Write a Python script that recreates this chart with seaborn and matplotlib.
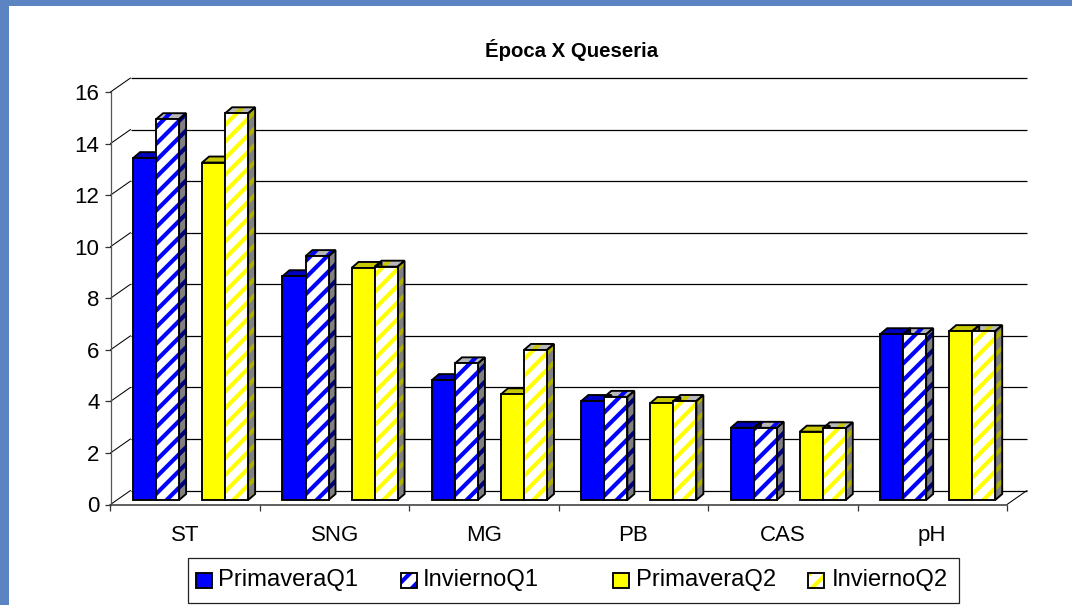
import numpy as np
import pandas as pd
import matplotlib
matplotlib.use("Agg")
import matplotlib.pyplot as plt
import seaborn as sns
from matplotlib.lines import Line2D
from matplotlib.patches import Polygon, Rectangle
from matplotlib.transforms import Affine2D, IdentityTransform

categories = ["ST", "SNG", "MG", "PB", "CAS", "pH"]
primavera_q1 = [13.26, 8.68, 4.65, 3.84, 2.80, 6.43]
invierno_q1 = [14.77, 9.46, 5.30, 4.00, 2.80, 6.43]
primavera_q2 = [13.09, 9.00, 4.10, 3.76, 2.65, 6.55]
invierno_q2 = [15.00, 9.05, 5.82, 3.84, 2.78, 6.55]
series_names = ["PrimaveraQ1", "InviernoQ1", "PrimaveraQ2", "InviernoQ2"]
y_ticks = [0, 2, 4, 6, 8, 10, 12, 14, 16]
title = "Época X Queseria"

BLUE, YELLOW = "#0000ff", "#ffff00"
W, H = 1072, 605
DX, DY = 20, 14          # wall depth in px
BX, BY = 5.4, 4.5        # bar plane shift in px
SX, SY = 7, 6            # bar depth in px
LW = 1.35
TEXTURE = "#5c83c2"

sns.set_theme(style="white")
plt.rcParams["font.family"] = ["Liberation Sans", "DejaVu Sans"]
plt.rcParams["hatch.linewidth"] = 3.0
plt.rcParams["text.color"] = "black"

df = pd.DataFrame({"categoria": categories, series_names[0]: primavera_q1, series_names[1]: invierno_q1,
                   " ": [np.nan] * len(categories), series_names[2]: primavera_q2, series_names[3]: invierno_q2})
long_df = df.melt(id_vars="categoria", var_name="serie", value_name="valor")
hue_order = [series_names[0], series_names[1], " ", series_names[2], series_names[3]]
palette = {series_names[0]: BLUE, series_names[1]: "white", " ": "white", series_names[2]: YELLOW, series_names[3]: "white"}

fig = plt.figure(figsize=(W / 100, H / 100), dpi=100, facecolor="white")

def rect(x0, top, x1, bottom):
    return [x0 / W, 1 - bottom / H, (x1 - x0) / W, (bottom - top) / H]

# textured slide edge
fig.add_artist(Rectangle((0, 0), 9 / W, 1, transform=fig.transFigure, fc=TEXTURE, ec="none"))
fig.add_artist(Rectangle((0, 1 - 6 / H), 1, 6 / H, transform=fig.transFigure, fc=TEXTURE, ec="none"))

ax = fig.add_axes(rect(110.5, 92, 1007, 504.5), facecolor="none")
ax.set_xlim(-0.5, 5.5)
ax.set_ylim(0, 16)
for s in ["top", "right"]:
    ax.spines[s].set_visible(False)
ax.spines["left"].set_color("#555555")
ax.spines["left"].set_linewidth(0.9)
ax.spines["bottom"].set_color("#444444")
ax.spines["bottom"].set_linewidth(1.2)
ax.set_yticks(y_ticks)
ax.set_xticks(np.arange(len(categories)))
ax.set_xticklabels(categories)
ax.set_xticks(np.arange(len(categories) + 1) - 0.5, minor=True)
ax.tick_params(axis="y", left=True, length=4.5, width=0.9, color="#333333", labelsize=16, pad=3.5, labelcolor="black")
ax.tick_params(axis="x", which="major", bottom=False, labelsize=16, pad=9, labelcolor="black")
ax.tick_params(axis="x", which="minor", bottom=True, length=4.5, width=0.9, color="#333333")
ax.set_xlabel("")
ax.set_ylabel("")

# back wall grid and depth lines
wall = ax.transData + Affine2D().translate(DX, DY)
ax.hlines(y_ticks, -0.5, 5.5, colors="black", linewidth=0.9, transform=wall, clip_on=False, zorder=1)
for v in y_ticks:
    p = ax.transData.transform((-0.5, v))
    ax.add_line(Line2D([p[0], p[0] + DX], [p[1], p[1] + DY], color="black", lw=0.75,
                       transform=IdentityTransform(), clip_on=False, zorder=1))
p = ax.transData.transform((5.5, 0))
ax.add_line(Line2D([p[0], p[0] + DX], [p[1], p[1] + DY], color="black", lw=0.75,
                   transform=IdentityTransform(), clip_on=False, zorder=1))

# bars, on a transparent axes shifted into the middle of the depth
bx = fig.add_axes(rect(110.5 + BX, 92 - BY, 1007 + BX, 504.5 - BY), facecolor="none")
sns.barplot(data=long_df, x="categoria", y="valor", hue="serie", hue_order=hue_order, palette=palette,
            order=categories, width=0.77, gap=0, dodge=True, errorbar=None, legend=False, saturation=1, ax=bx)
bx.set_xlim(-0.5, 5.5)
bx.set_ylim(0, 16)
bx.axis("off")

styles = [
    dict(main=BLUE, side="#00007f", top="#0000c0", hatched=False),
    dict(main=BLUE, side="#00007f", top=BLUE, hatched=True),
    dict(main=YELLOW, side="#808000", top="#c8c800", hatched=False),
    dict(main=YELLOW, side="#b0b000", top="#c8c800", hatched=True),
]
to_px = bx.transData
real_containers = [c for c in bx.containers if len(c.patches) and np.nansum([p.get_height() for p in c.patches]) > 0]
for st, container in zip(styles, real_containers):
    for patch in container.patches:
        x0, y0 = to_px.transform((patch.get_x(), 0))
        x1, y1 = to_px.transform((patch.get_x() + patch.get_width(), patch.get_height()))
        side = [(x1, y0), (x1 + SX, y0 + SY), (x1 + SX, y1 + SY), (x1, y1)]
        top = [(x0, y1), (x0 + SX, y1 + SY), (x1 + SX, y1 + SY), (x1, y1)]
        for pts, col in ((side, st["side"]), (top, st["top"])):
            if st["hatched"]:
                bx.add_patch(Polygon(pts, closed=True, fc="#808080" if pts is side else "#b8b8b8", ec=col, hatch="//", lw=0,
                                     transform=IdentityTransform(), clip_on=False, zorder=2))
                bx.add_patch(Polygon(pts, closed=True, fc="none", ec="black", lw=LW,
                                     transform=IdentityTransform(), clip_on=False, zorder=2.1))
            else:
                bx.add_patch(Polygon(pts, closed=True, fc=col, ec="black", lw=LW,
                                     transform=IdentityTransform(), clip_on=False, zorder=2.1))
        patch.set_zorder(3)
        patch.set_clip_on(False)
        if st["hatched"]:
            patch.set_facecolor("white")
            patch.set_edgecolor(st["main"])
            patch.set_hatch("//")
            patch.set_linewidth(0)
            bx.add_patch(Rectangle((patch.get_x(), 0), patch.get_width(), patch.get_height(), fc="none", ec="black",
                                   lw=LW, zorder=3.1, clip_on=False))
        else:
            patch.set_edgecolor("black")
            patch.set_linewidth(LW)

fig.text(572 / W, 1 - 50 / H, title, ha="center", va="center", fontsize=14.7, fontweight="bold", color="black")

# legend box
fig.add_artist(Rectangle((188 / W, 1 - 603 / H), (959 - 188) / W, (603 - 558) / H, transform=fig.transFigure,
                         fc="white", ec="#222222", lw=0.9))
key_x = [196, 401, 613, 808]
text_x = [218, 423, 636, 832]
key_main = [BLUE, BLUE, YELLOW, YELLOW]
key_hatched = [False, True, False, True]
for name, kx, tx, col, hat in zip(series_names, key_x, text_x, key_main, key_hatched):
    if hat:
        fig.add_artist(Rectangle((kx / W, 1 - 588 / H), 15.5 / W, 15.5 / H, transform=fig.transFigure,
                                 fc="white", ec=col, hatch="//", lw=0))
    fig.add_artist(Rectangle((kx / W, 1 - 588 / H), 15.5 / W, 15.5 / H, transform=fig.transFigure,
                             fc="none" if hat else col, ec="black", lw=LW))
    fig.text(tx / W, 1 - 580 / H, name, ha="left", va="center", fontsize=17.1, color="black")

fig.savefig("out.png", dpi=100)
